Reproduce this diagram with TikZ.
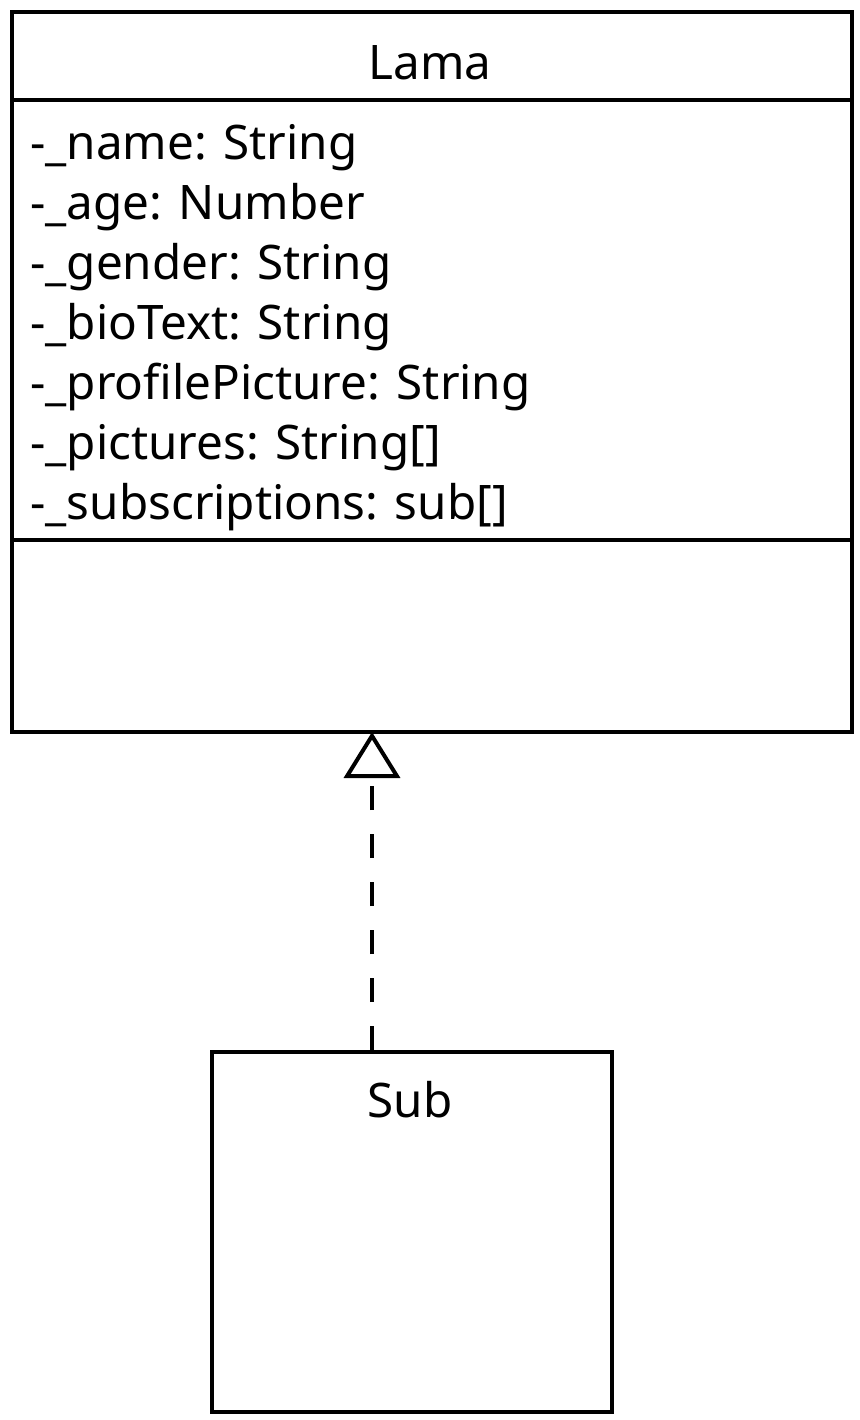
\documentclass[tikz,border=0pt]{standalone}
\usepackage{fontspec}
\setmainfont{Noto Sans}
\usepackage{xcolor}
\usepackage{tikz}
\usetikzlibrary{arrows.meta}

\tikzset{
  classbox/.style={draw,line width=2pt,rectangle,inner sep=0pt},
  umltext/.style={inner sep=0pt,font=\fontsize{23.8}{30}\selectfont},
  realize/.style={line width=2pt,dash pattern=on 12pt off 12pt,
    -{Triangle[open,length=23pt,width=28pt]}}
}

\begin{document}
\begin{tikzpicture}[x=0.5pt,y=-0.5pt]
            \useasboundingbox (0,0) rectangle (860,1420);

            % class Lama
            \node[classbox,minimum width=420pt,minimum height=360pt] (lama) at (432,372) {};
            \node[umltext,anchor=base] (lamaname) at (430,79) {Lama};
            \draw[line width=2pt] (12,100) -- (852,100);
            \draw[line width=2pt] (12,540) -- (852,540);
            \foreach \txt [count=\i] in {{-\_name: String},{-\_age: Number},{-\_gender: String},
                {-\_bioText: String},{-\_profilePicture: String},{-\_pictures: String[]},
                {-\_subscriptions: sub[]}}
              \node[umltext,anchor=base west] (attr\i) at (30,{99+60*\i}) {\txt};

            % class Sub
            \node[classbox,minimum width=200pt,minimum height=180pt] (sub) at (412,1232) {};
            \node[umltext,anchor=base] (subname) at (410,1117) {Sub};

            \coordinate (apex) at (372,732);
            \draw[realize] (apex |- sub.north) -- (apex);
        \end{tikzpicture}
\end{document}
